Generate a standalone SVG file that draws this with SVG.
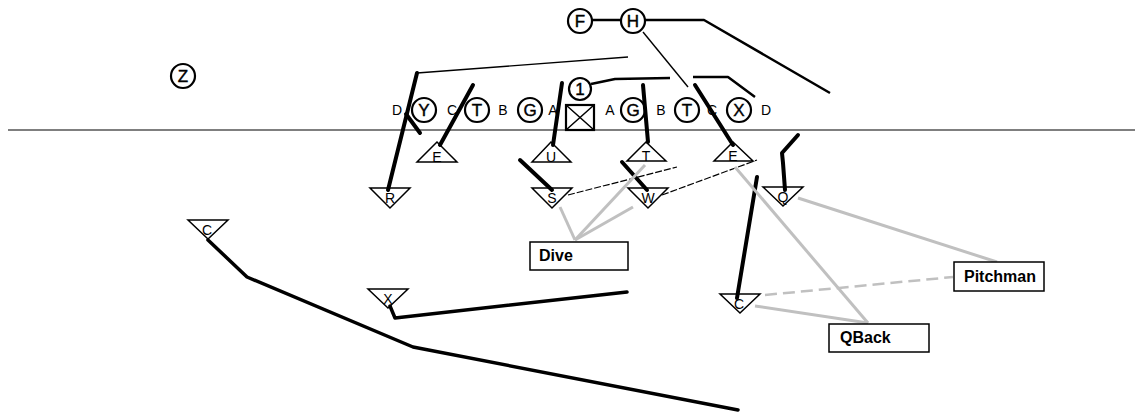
<svg xmlns="http://www.w3.org/2000/svg" width="1135" height="413" viewBox="0 0 1135 413">
<style>
.bg{fill:#fff}
.los{stroke:#000;stroke-width:1.2;fill:none}
.pl{fill:#fff;stroke:#000;stroke-width:2.2}
.tri{fill:#fff;stroke:#000;stroke-width:1.5}
.box{fill:#fff;stroke:#000;stroke-width:1.5}
.cl{font-family:"Liberation Sans",Arial,sans-serif;font-size:17px;text-anchor:middle;fill:#000;stroke:#000;stroke-width:0.4}
.gap{font-family:"Liberation Sans",Arial,sans-serif;font-size:14px;text-anchor:middle;fill:#000}
.tl{font-family:"Liberation Sans",Arial,sans-serif;font-size:14px;text-anchor:middle;fill:#000}
.lb{font-family:"Liberation Sans",Arial,sans-serif;font-size:16px;font-weight:bold;fill:#000}
.thick{stroke:#000;stroke-width:4;fill:none;stroke-linecap:round;stroke-linejoin:round}
.med{stroke:#000;stroke-width:2.5;fill:none;stroke-linejoin:round}
.thin{stroke:#000;stroke-width:1.4;fill:none}
.dash{stroke:#000;stroke-width:1.2;fill:none;stroke-dasharray:7 2}
.gray{stroke:#c0c0c0;stroke-width:3;fill:none}
.gdash{stroke:#c0c0c0;stroke-width:2.5;fill:none;stroke-dasharray:12 6}
</style>
<rect class="bg" x="0" y="0" width="1135" height="413"/>
<line class="los" x1="8" y1="130" x2="1135" y2="130"/>

<g id="offense">
<g id="Z"><circle class="pl" cx="183" cy="76" r="12"/><text class="cl" x="183" y="82">Z</text></g>
<g id="F"><circle class="pl" cx="580" cy="21" r="12"/><text class="cl" x="580" y="27">F</text></g>
<g id="H"><circle class="pl" cx="633" cy="21" r="12"/><text class="cl" x="633" y="27">H</text></g>
<g id="QB1"><circle class="pl" cx="580" cy="89" r="11"/><text class="cl" x="580" y="95">1</text></g>
<g id="Ctr"><rect class="pl" x="566" y="105" width="28" height="25"/><path d="M566 105L594 130M594 105L566 130" stroke="#000" stroke-width="1.5"/></g>
<g id="Y"><circle class="pl" cx="424" cy="110" r="12"/><text class="cl" x="424" y="116">Y</text></g>
<g id="LT"><circle class="pl" cx="477" cy="110" r="12"/><text class="cl" x="477" y="116">T</text></g>
<g id="LG"><circle class="pl" cx="530" cy="110" r="12"/><text class="cl" x="530" y="116">G</text></g>
<g id="RG"><circle class="pl" cx="633" cy="110" r="12"/><text class="cl" x="633" y="116">G</text></g>
<g id="RT"><circle class="pl" cx="687" cy="110" r="12"/><text class="cl" x="687" y="116">T</text></g>
<g id="X"><circle class="pl" cx="739" cy="110" r="12"/><text class="cl" x="739" y="116">X</text></g>
<g id="gaps">
<text class="gap" x="397" y="115">D</text>
<text class="gap" x="452" y="115">C</text>
<text class="gap" x="503" y="115">B</text>
<text class="gap" x="553" y="115">A</text>
<text class="gap" x="610" y="115">A</text>
<text class="gap" x="661" y="115">B</text>
<text class="gap" x="712" y="115">C</text>
<text class="gap" x="766" y="115">D</text>
</g>
</g>

<g id="defense">
<g id="dE1"><polygon class="tri" points="437,142 417,162 457,162"/><text class="tl" x="437" y="162">E</text></g>
<g id="dU"><polygon class="tri" points="551,142 532,162 571,162"/><text class="tl" x="551" y="162">U</text></g>
<g id="dT"><polygon class="tri" points="646,142 627,161 666,161"/><text class="tl" x="646" y="161">T</text></g>
<g id="dE2"><polygon class="tri" points="733,142 714,161 753,161"/><text class="tl" x="733" y="161">E</text></g>
<g id="dR"><polygon class="tri" points="370,188 410,188 390,208"/><text class="tl" x="390" y="203">R</text></g>
<g id="dS"><polygon class="tri" points="532,188 572,188 552,208"/><text class="tl" x="552" y="203">S</text></g>
<g id="dW"><polygon class="tri" points="628,188 668,188 648,208"/><text class="tl" x="648" y="203">W</text></g>
<g id="dQ"><polygon class="tri" points="763,187 803,187 783,206"/><text class="tl" x="783" y="202">Q</text></g>
<g id="dC1"><polygon class="tri" points="188,220 228,220 208,239"/><text class="tl" x="207" y="235">C</text></g>
<g id="dX"><polygon class="tri" points="368,289 408,289 388,308"/><text class="tl" x="388" y="304">X</text></g>
<g id="dC2"><polygon class="tri" points="720,294 760,294 740,313"/><text class="tl" x="739" y="309">C</text></g>
</g>

<g id="connectors">
<line class="med" x1="592" y1="20" x2="621" y2="20"/>
<polyline class="med" points="645,20 704,20 830,93"/>
<line class="thin" x1="643" y1="32" x2="688" y2="87"/>
<polyline class="med" points="591,84 615,79 670,78"/>
<polyline class="med" points="693,77 728,77 755,97"/>
<line class="thin" x1="417" y1="73" x2="628" y2="57"/>
<line class="thick" x1="417" y1="73" x2="388" y2="190"/>
<line class="thick" x1="406" y1="114" x2="420" y2="133"/>
<line class="thick" x1="473" y1="85" x2="440" y2="145"/>
<line class="thick" x1="562" y1="83" x2="553" y2="145"/>
<line class="thick" x1="643" y1="85" x2="648" y2="142"/>
<line class="thick" x1="695" y1="85" x2="733" y2="145"/>
<polyline class="thick" points="798,135 782,153 783,163 785,190"/>
<line class="thick" x1="520" y1="160" x2="552" y2="190"/>
<line class="thick" x1="622" y1="162" x2="647" y2="190"/>
<line class="dash" x1="568" y1="195" x2="677" y2="167"/>
<line class="dash" x1="662" y1="195" x2="757" y2="160"/>
<line class="thick" x1="757" y1="177" x2="737" y2="298"/>
<polyline class="thick" style="stroke-width:3.5" points="208,240 247,277 413,347 738,410"/>
<polyline class="thick" style="stroke-width:3.5" points="390,306 395,318 627,292"/>
<line class="gray" x1="560" y1="207" x2="575" y2="240"/>
<line class="gray" x1="645" y1="165" x2="575" y2="240"/>
<line class="gray" x1="633" y1="207" x2="575" y2="240"/>
<line class="gray" x1="735" y1="167" x2="868" y2="323"/>
<line class="gray" x1="755" y1="306" x2="868" y2="323"/>
<line class="gray" x1="798" y1="198" x2="997" y2="262"/>
<line class="gdash" x1="765" y1="295" x2="953" y2="277"/>
</g>

<g id="labels">
<g id="Dive"><rect class="box" x="530" y="242" width="98" height="28"/><text class="lb" x="539" y="261">Dive</text></g>
<g id="Pitchman"><rect class="box" x="954" y="262" width="90" height="29"/><text class="lb" x="964" y="282">Pitchman</text></g>
<g id="QBack"><rect class="box" x="829" y="324" width="100" height="28"/><text class="lb" x="840" y="343">QBack</text></g>
</g>
</svg>
